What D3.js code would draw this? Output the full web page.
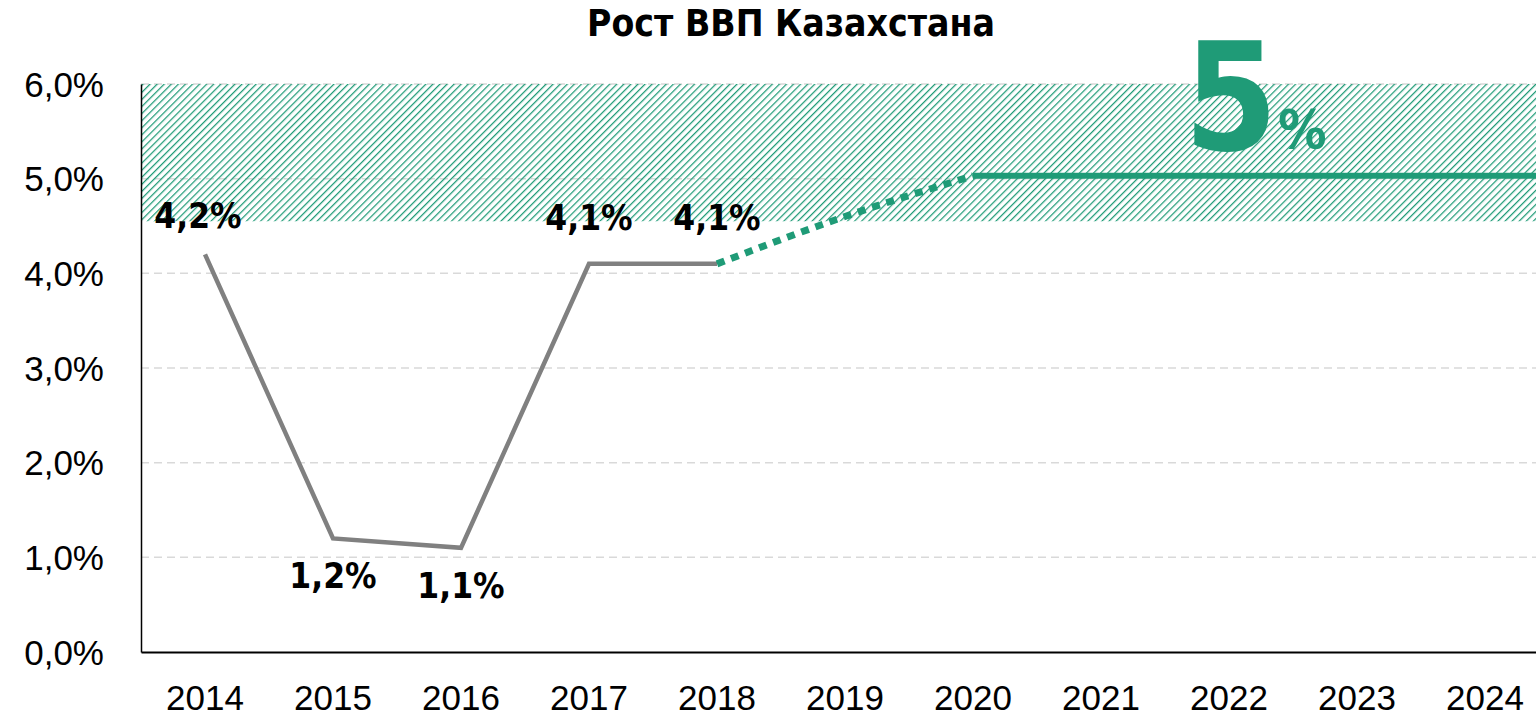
<!DOCTYPE html>
<html>
<head>
<meta charset="utf-8">
<script src="https://cdnjs.cloudflare.com/ajax/libs/d3/7.8.5/d3.min.js"></script>
<style>
  body { margin: 0; background: #fff; }
  svg { display: block; font-family: "DejaVu Sans", sans-serif; font-stretch: condensed; }
</style>
</head>
<body>
<svg id="chart"></svg>
<script>
var years = ["2014", "2015", "2016", "2017", "2018", "2019", "2020", "2021", "2022", "2023", "2024"];
var factValues = [4.2, 1.2, 1.1, 4.1, 4.1];
var factLabels = ["4,2%", "1,2%", "1,1%", "4,1%", "4,1%"];
var forecastYears = ["2018", "2019", "2020"];
var forecastValues = [4.1, 4.6, 5.03];
var targetYears = ["2020", "2021", "2022", "2023", "2024"];
var targetValues = [5.03, 5.03, 5.03, 5.03, 5.03];
var yTicks = [0, 1, 2, 3, 4, 5, 6];
var targetBand = [4.55, 6.0];

var width = 1536, height = 721;
var plotLeft = 141, plotTop = 84, plotBottom = 652;

var svg = d3.select("#chart")
    .attr("width", width)
    .attr("height", height);

var x = d3.scaleBand()
    .domain(years)
    .range([plotLeft, plotLeft + 11 * 128]);

var y = d3.scaleLinear()
    .domain([0, 6])
    .range([plotBottom, plotTop]);

var cx = d => x(d) + x.bandwidth() / 2;

// hatch pattern
var defs = svg.append("defs");
var pat = defs.append("pattern")
    .attr("id", "hatch")
    .attr("patternUnits", "userSpaceOnUse")
    .attr("width", 5)
    .attr("height", 5)
    .attr("patternTransform", "rotate(45)");
pat.append("line")
    .attr("x1", 0).attr("y1", 0)
    .attr("x2", 0).attr("y2", 5)
    .attr("stroke", "#1f9b77")
    .attr("stroke-width", 2.5);

// grid
svg.append("g")
    .selectAll("line")
    .data(yTicks.slice(1))
    .enter().append("line")
    .attr("x1", plotLeft).attr("x2", width)
    .attr("y1", d => y(d)).attr("y2", d => y(d))
    .attr("stroke", "#d9d9d9")
    .attr("stroke-width", 1.5)
    .attr("stroke-dasharray", "8,5");

// target band
svg.append("rect")
    .attr("x", plotLeft)
    .attr("y", y(targetBand[1]))
    .attr("width", width - plotLeft)
    .attr("height", y(targetBand[0]) - y(targetBand[1]))
    .attr("fill", "url(#hatch)");

// axes
var yAxis = svg.append("g")
    .attr("transform", "translate(" + plotLeft + ",0)")
    .call(d3.axisLeft(y).tickValues(yTicks).tickSize(0).tickPadding(37)
        .tickFormat(d => d3.format(".1f")(d).replace(".", ",") + "%"));
yAxis.select(".domain").attr("stroke", "#000").attr("stroke-width", 1.5);
yAxis.selectAll("text").attr("font-size", 35).attr("fill", "#000").attr("dy", "0.35em");

var xAxis = svg.append("g")
    .attr("transform", "translate(0," + plotBottom + ")")
    .call(d3.axisBottom(x).tickSize(0).tickPadding(33));
xAxis.select(".domain").attr("stroke", "#000").attr("stroke-width", 2);
xAxis.selectAll("text").attr("font-size", 35).attr("fill", "#000");

// lines
var line = d3.line()
    .x(d => cx(d[0]))
    .y(d => y(d[1]));

svg.append("path")
    .datum(d3.zip(years.slice(0, 5), factValues))
    .attr("d", line)
    .attr("fill", "none")
    .attr("stroke", "#808080")
    .attr("stroke-width", 4.5);

svg.append("path")
    .datum(d3.zip(forecastYears, forecastValues))
    .attr("d", d3.line().curve(d3.curveMonotoneX).x(d => cx(d[0])).y(d => y(d[1])))
    .attr("fill", "none")
    .attr("stroke", "#1f9b77")
    .attr("stroke-width", 7)
    .attr("stroke-dasharray", "8,7");

// target line runs on to the right edge of the plot
var targetPts = targetYears.map((d, i) => [cx(d), y(targetValues[i])]);
targetPts.push([width, y(targetValues[targetValues.length - 1])]);
svg.append("path")
    .datum(targetPts)
    .attr("d", d3.line())
    .attr("fill", "none")
    .attr("stroke", "#1f9b77")
    .attr("stroke-width", 6);

// data labels
var labelOffsets = [-26, 50, 50, -34, -34];
var labelShift = [-7, 0, 0, 0, 0];
svg.append("g")
    .selectAll("text")
    .data(factValues)
    .enter().append("text")
    .attr("x", (d, i) => cx(years[i]) + labelShift[i])
    .attr("y", (d, i) => y(d) + labelOffsets[i])
    .attr("text-anchor", "middle")
    .attr("font-size", 35)
    .attr("font-weight", "bold")
    .attr("fill", "#000")
    .text((d, i) => factLabels[i]);

// title
svg.append("text")
    .attr("x", 791)
    .attr("y", 36)
    .attr("text-anchor", "middle")
    .attr("font-size", 37)
    .attr("font-weight", "bold")
    .text("Рост ВВП Казахстана");

// big target label
var big = svg.append("text")
    .attr("x", 1184)
    .attr("y", 150)
    .attr("fill", "#1f9b77")
    .attr("font-weight", "bold");
big.append("tspan").attr("font-size", 150).text("5");
big.append("tspan").attr("font-size", 54).attr("dx", 0).attr("dy", -2).text("%");
</script>
</body>
</html>
